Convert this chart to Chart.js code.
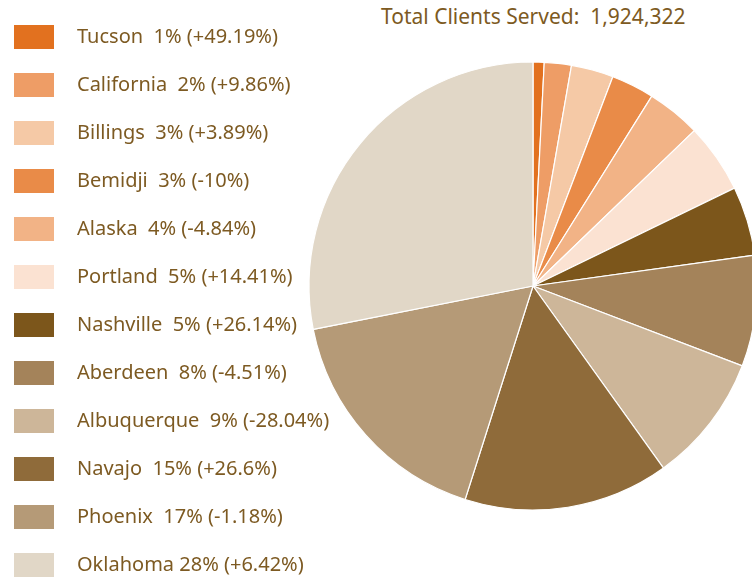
<!DOCTYPE html>
<html><head><meta charset="utf-8">
<script src="https://cdn.jsdelivr.net/npm/chart.js@4.4.1/dist/chart.umd.min.js"></script>
<style>
html,body{margin:0;padding:0;width:752px;height:580px;overflow:hidden;background:#fff;position:relative}
#c{position:absolute;left:-14px;top:-31px}
#title{position:absolute;left:381px;top:6px;font-family:'Noto Sans';font-size:21px;line-height:21px;color:#7D5A22;white-space:pre}
</style></head><body>
<div id="title">Total Clients Served:  1,924,322</div>
<canvas id="c" width="790" height="634"></canvas>
<script>
// ---- data ----
const regions = ['Tucson','California','Billings','Bemidji','Alaska','Portland','Nashville','Aberdeen','Albuquerque','Navajo','Phoenix','Oklahoma'];
const shareValues = [0.8, 1.95, 3.05, 3.1, 3.9, 5.0, 5.0, 8.0, 9.3, 14.8, 17.0, 28.1];
const shareLabels = ['1%','2%','3%','3%','4%','5%','5%','8%','9%','15%','17%','28%'];
const changeLabels = ['+49.19%','+9.86%','+3.89%','-10%','-4.84%','+14.41%','+26.14%','-4.51%','-28.04%','+26.6%','-1.18%','+6.42%'];
const nameGaps = ['  ','  ','  ','  ','  ','  ','  ','  ','  ','  ','  ',' '];
const colors = ['#E2711F','#EE9D66','#F5C9A6','#E98B48','#F2B386','#FBE2D2','#7C561B','#A4835A','#CDB699','#8F6B3A','#B59A77','#E1D7C7'];
const textColor = '#7D5A22';

const legendTexts = regions.map((r, i) => r + nameGaps[i] + shareLabels[i] + ' (' + changeLabels[i] + ')');

// legend swatches (40x24 box inside a 53px wide transparent cell)
const swatches = colors.map(c => {
  const cv = document.createElement('canvas');
  cv.width = 53; cv.height = 24;
  const g = cv.getContext('2d');
  g.fillStyle = c; g.fillRect(0, 0, 40, 24);
  return cv;
});

const chart = new Chart(document.getElementById('c'), {
  type: 'pie',
  data: {
    labels: regions,
    datasets: [{
      data: shareValues,
      backgroundColor: colors,
      borderColor: '#ffffff',
      borderWidth: 1.2,
      hoverOffset: 0
    }]
  },
  options: {
    responsive: false,
    devicePixelRatio: 1,
    animation: false,
    radius: 224,
    layout: { padding: { left: 0, right: 0, top: 0, bottom: 0 } },
    plugins: {
      tooltip: { enabled: false },
      title: { display: false },
      legend: {
        display: true,
        position: 'left',
        align: 'end',
        labels: {
          usePointStyle: true,
          pointStyleWidth: 53,
          padding: 28,
          color: textColor,
          font: { family: "'Noto Sans'", size: 20 },
          generateLabels: () => legendTexts.map((t, i) => ({
            text: t,
            fillStyle: colors[i],
            strokeStyle: colors[i],
            lineWidth: 0,
            pointStyle: swatches[i],
            hidden: false,
            index: i,
            fontColor: textColor
          }))
        }
      }
    }
  }
});

// center the pie at the page position x = 533 (canvas offset 14)
const targetCenter = 533 + 14;
const padRight = chart.chartArea.left + chart.width - 2 * targetCenter;
chart.options.layout.padding = { left: 0, top: 0, bottom: 0, right: padRight };
chart.update('none');
</script>
</body></html>
